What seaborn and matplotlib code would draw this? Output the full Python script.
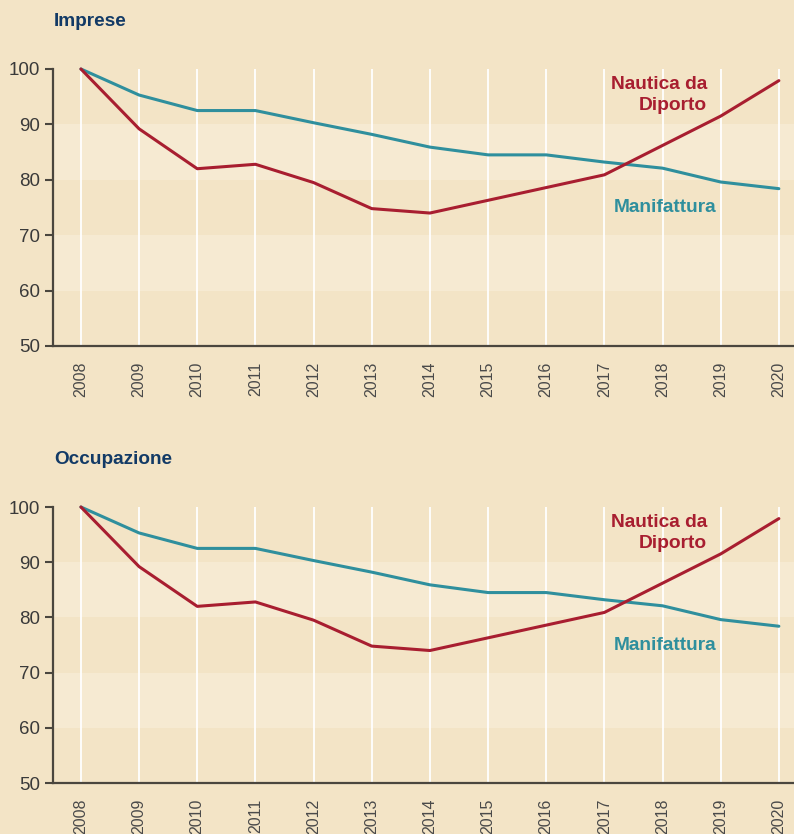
import numpy as np
import pandas as pd
import matplotlib
matplotlib.use("Agg")
import matplotlib.pyplot as plt
import seaborn as sns

# Data (index 2008 = 100)
YEARS = [2008, 2009, 2010, 2011, 2012, 2013, 2014, 2015, 2016, 2017, 2018, 2019, 2020]
NAUTICA_IMPRESE = [100, 89.2, 82.0, 82.8, 79.5, 74.8, 74.0, 76.3, 78.6, 80.9, 86.2, 91.5, 97.9]
MANIF_IMPRESE = [100, 95.3, 92.5, 92.5, 90.3, 88.2, 85.9, 84.5, 84.5, 83.2, 82.1, 79.6, 78.4]
NAUTICA_OCCUP = [100, 89.2, 82.0, 82.8, 79.5, 74.8, 74.0, 76.3, 78.6, 80.9, 86.2, 91.5, 97.9]
MANIF_OCCUP = [100, 95.3, 92.5, 92.5, 90.3, 88.2, 85.9, 84.5, 84.5, 83.2, 82.1, 79.6, 78.4]
Y_TICKS = [50, 60, 70, 80, 90, 100]

# Colours
BG = "#F3E4C6"
BAND = "#F6EAD2"
RED = "#A81E30"
TEAL = "#2F8F9D"
TITLE = "#123A66"
AXIS = "#4A463E"

sns.set_theme(style="white")
plt.rcParams["font.family"] = ["Liberation Sans", "DejaVu Sans"]

fig = plt.figure(figsize=(7.94, 8.34), dpi=100, facecolor=BG)


def draw_panel(ax, title, nautica, manif, title_y):
    ax.set_facecolor(BG)
    ax.set_xlim(2007.52, 2020.26)
    ax.set_ylim(50, 100)

    # light horizontal bands
    for lo, hi in [(80, 90), (60, 70)]:
        ax.axhspan(lo, hi, color=BAND, lw=0, zorder=0)
    # white vertical grid
    for yr in YEARS:
        ax.axvline(yr, color="white", lw=1.3, zorder=1)

    df = pd.DataFrame({"anno": YEARS * 2,
                       "valore": nautica + manif,
                       "serie": ["Nautica da Diporto"] * len(YEARS) + ["Manifattura"] * len(YEARS)})
    sns.lineplot(data=df, x="anno", y="valore", hue="serie",
                 palette={"Nautica da Diporto": RED, "Manifattura": TEAL},
                 hue_order=["Manifattura", "Nautica da Diporto"],
                 lw=2.2, legend=False, ax=ax, zorder=3, clip_on=False)

    ax.text(2018.76, 95.3, "Nautica da\nDiporto", color=RED, fontsize=13.8,
            fontweight="bold", ha="right", va="center", linespacing=1.3)
    ax.text(2018.04, 75.0, "Manifattura", color=TEAL, fontsize=13.8,
            fontweight="bold", ha="center", va="center")

    ax.set_yticks(Y_TICKS)
    ax.set_yticklabels([str(v) for v in Y_TICKS], fontsize=13.5, color="#3A3A3A")
    ax.set_xticks(YEARS)
    ax.set_xticklabels([str(y) for y in YEARS], rotation=90, fontsize=11.5, color="#4A4A4A")
    ax.tick_params(axis="y", length=6, width=1.5, color=AXIS, pad=3, left=True)
    ax.tick_params(axis="x", length=0, pad=11)
    ax.set_xlabel("")
    ax.set_ylabel("")
    for s in ["top", "right"]:
        ax.spines[s].set_visible(False)
    for s in ["left", "bottom"]:
        ax.spines[s].set_color(AXIS)
        ax.spines[s].set_linewidth(1.6)
        ax.spines[s].set_zorder(4)

    fig.text(54 / 794, title_y, title, color=TITLE, fontsize=13.7,
             fontweight="bold", ha="left", va="center")


ax1 = fig.add_axes([53 / 794, 1 - 346 / 834, 1 - 53 / 794, (346 - 69) / 834])
ax2 = fig.add_axes([53 / 794, 1 - 783 / 834, 1 - 53 / 794, (783 - 507) / 834])

draw_panel(ax1, "Imprese", NAUTICA_IMPRESE, MANIF_IMPRESE, 1 - 21 / 834)
draw_panel(ax2, "Occupazione", NAUTICA_OCCUP, MANIF_OCCUP, 1 - 459 / 834)

fig.savefig("out.png", dpi=100, facecolor=BG)
